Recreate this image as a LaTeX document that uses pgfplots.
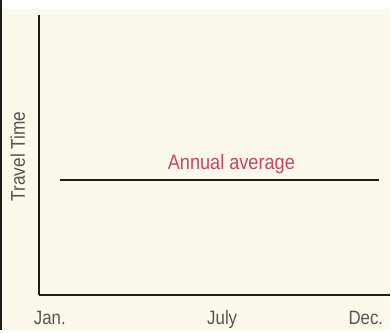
\documentclass[border=0pt]{standalone}
\usepackage{fontspec}
\setmainfont{Liberation Sans}[FakeStretch=0.87]
\usepackage{pgfplots}
\pgfplotsset{compat=1.18}

\definecolor{cream}{RGB}{252,248,234}
\definecolor{inkline}{RGB}{30,28,28}
\definecolor{labelgray}{RGB}{85,85,85}
\definecolor{avgred}{RGB}{200,70,95}

\begin{document}
\begin{tikzpicture}
% page background: white strip on top, dark edge on the left
\fill[white] (-39bp,-35bp) rectangle (352bp,296bp);
\fill[cream] (-39bp,-35bp) rectangle (352bp,287bp);
\fill[inkline] (-39bp,-35bp) rectangle (-36.5bp,296bp);

\begin{axis}[
    at={(0,0)}, anchor=south west,
    scale only axis,
    width=352bp, height=281bp,
    xmin=0.62, xmax=12.83,
    ymin=0, ymax=10,
    axis x line=bottom,
    axis y line=left,
    axis line style={-, line width=2.6bp, color=inkline},
    xtick={1,7,12},
    xticklabels={Jan.,July,Dec.},
    ytick=\empty,
    major tick length=0pt,
    xticklabel style={anchor=base, yshift=-30bp, text=labelgray,
        font=\fontsize{19.5}{22}\selectfont},
    ylabel={Travel Time},
    ylabel style={at={(axis description cs:-0.06,0.495)}, anchor=center,
        text=labelgray, font=\fontsize{20}{22}\selectfont},
    clip=false,
]
\addplot[inkline, line width=2.4bp] coordinates {(1.35,4.1) (12.45,4.1)};
\node[anchor=base, text=avgred, font=\fontsize{21}{24}\selectfont]
    at (axis cs:7.32,4.48) {Annual average};
\end{axis}
\end{tikzpicture}
\end{document}
